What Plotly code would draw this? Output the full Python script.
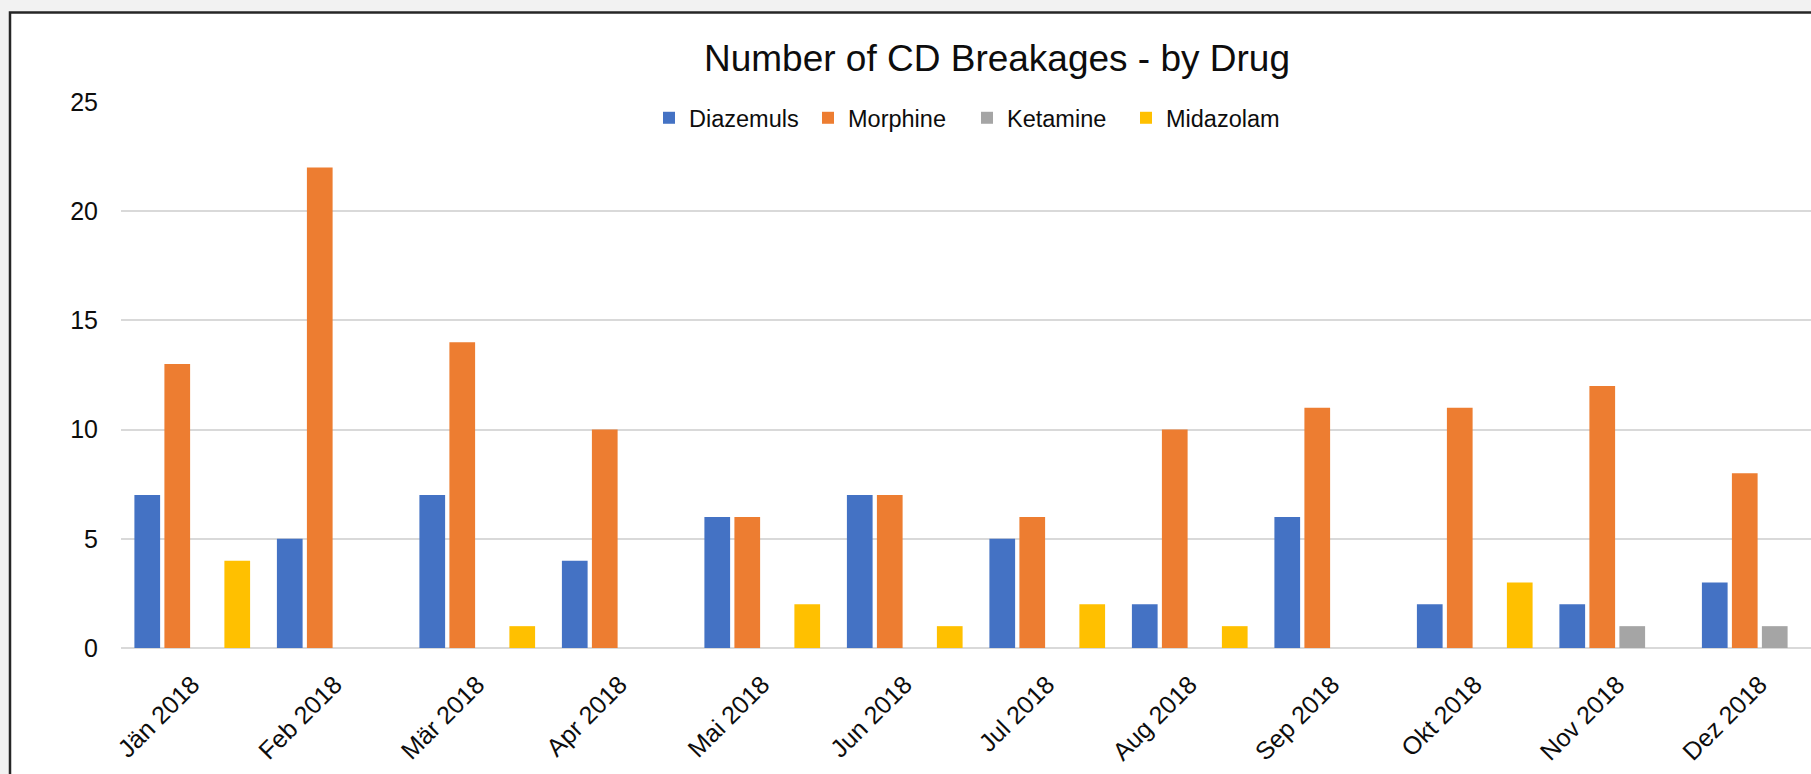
import plotly.graph_objects as go

months = ["Jän 2018", "Feb 2018", "Mär 2018", "Apr 2018", "Mai 2018", "Jun 2018",
          "Jul 2018", "Aug 2018", "Sep 2018", "Okt 2018", "Nov 2018", "Dez 2018"]
diazemuls = [7, 5, 7, 4, 6, 7, 5, 2, 6, 2, 2, 3]
morphine = [13, 22, 14, 10, 6, 7, 6, 10, 11, 11, 12, 8]
ketamine = [0, 0, 0, 0, 0, 0, 0, 0, 0, 0, 1, 1]
midazolam = [4, 0, 1, 0, 2, 1, 2, 1, 0, 3, 0, 0]

series_names = ["Diazemuls", "Morphine", "Ketamine", "Midazolam"]
series_values = [diazemuls, morphine, ketamine, midazolam]
colors = ["#4472C4", "#ED7D31", "#A5A5A5", "#FFC000"]

FONT = "Liberation Sans, Arial, sans-serif"
W, H = 1811, 774
ML, MR, MT, MB = 121, 0, 102, 126
pw = W - ML - MR
ph = H - MT - MB

def px_x(x):
    return (x - ML) / pw

def px_y(y):
    return (H - MB - y) / ph

fig = go.Figure()
for name, vals, col in zip(series_names, series_values, colors):
    fig.add_trace(go.Bar(x=months, y=vals, name=name, marker=dict(color=col, line=dict(width=0))))

fig.update_layout(
    width=W, height=H,
    margin=dict(l=ML, r=MR, t=MT, b=MB, autoexpand=False),
    paper_bgcolor="#f2f2f2",
    plot_bgcolor="rgba(0,0,0,0)",
    barmode="group",
    bargap=0.158,
    bargroupgap=0.143,
    font=dict(family=FONT, color="#0d0d0d"),
    title=dict(text="Number of CD Breakages - by Drug", font=dict(size=37, family=FONT, color="#0d0d0d"),
               xref="paper", x=px_x(997), xanchor="center",
               yref="container", y=1 - 58 / H, yanchor="middle"),
    legend=dict(orientation="h", x=px_x(649), xanchor="left", y=px_y(118), yanchor="middle",
                font=dict(size=23.5, family=FONT, color="#0d0d0d"), bgcolor="rgba(0,0,0,0)",
                traceorder="normal", itemwidth=30, entrywidth=114, entrywidthmode="pixels"),
    shapes=[dict(type="rect", xref="paper", yref="paper", layer="below",
                 x0=px_x(10), x1=1.2, y0=-0.5, y1=px_y(12.5),
                 fillcolor="white", line=dict(color="#262626", width=2.5))],
    showlegend=True,
)
fig.update_xaxes(range=[-0.5, -0.5 + pw / 142.5], tickangle=-45, showgrid=False, showline=False,
                 ticks="", tickfont=dict(size=25, family=FONT, color="#0d0d0d"), automargin=False,
                 ticklabelstandoff=16)
fig.update_yaxes(range=[0, 25], dtick=5, showgrid=True, gridcolor="#d9d9d9", gridwidth=1.6,
                 zeroline=True, zerolinecolor="#d9d9d9", zerolinewidth=2, showline=False,
                 ticks="", tickfont=dict(size=25, family=FONT, color="#0d0d0d"), automargin=False,
                 ticklabelstandoff=22)

fig.write_html("out.html")
